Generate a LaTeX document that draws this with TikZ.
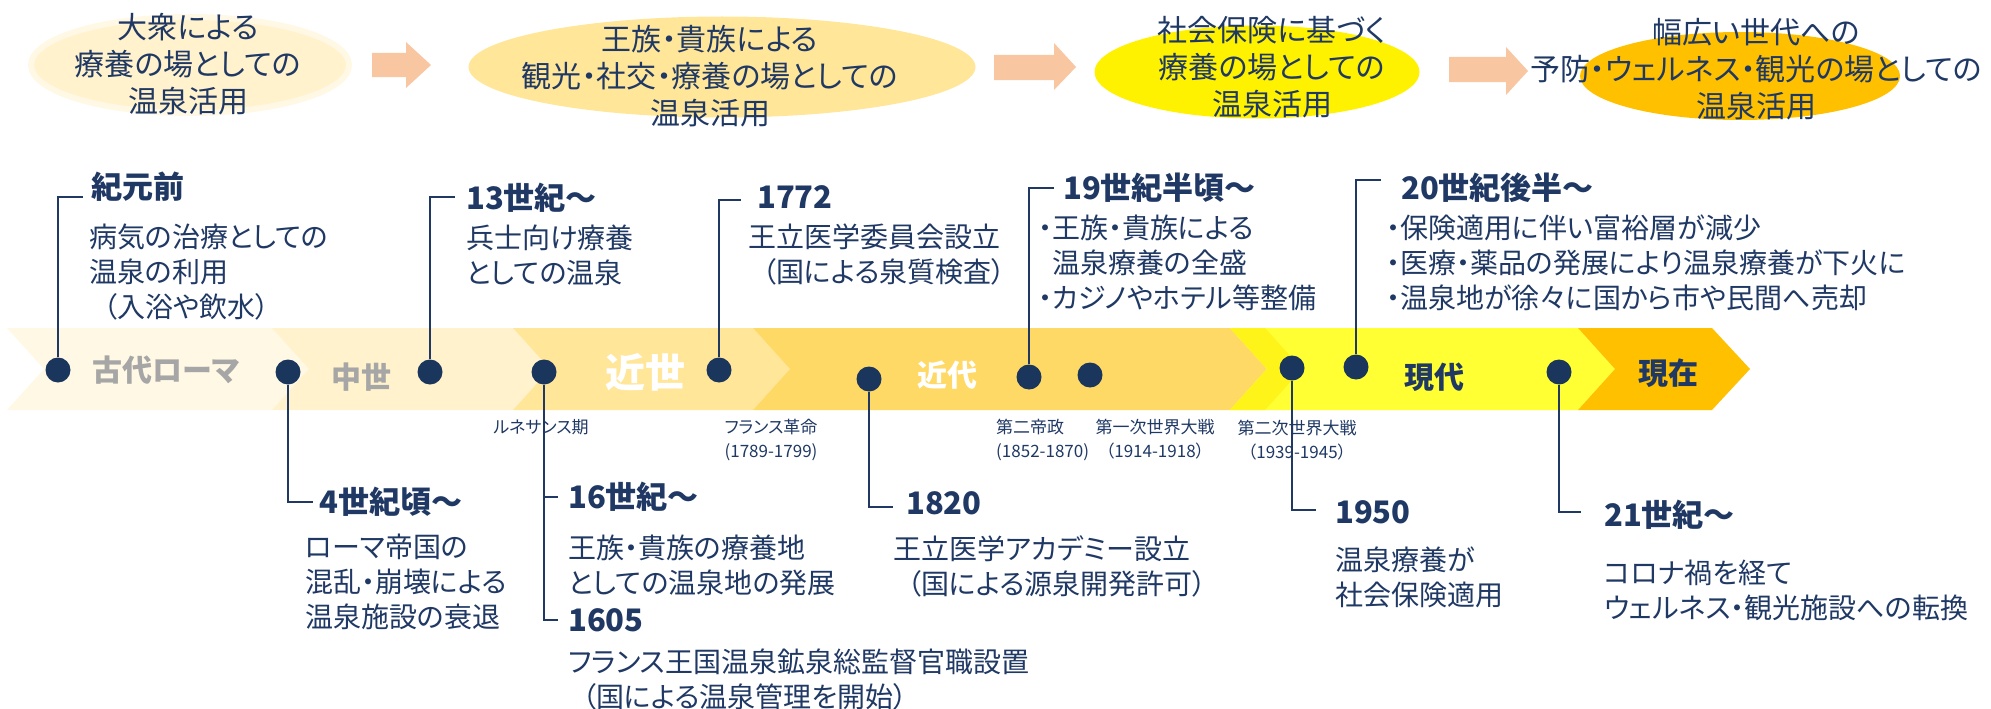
\documentclass[tikz,border=0pt]{standalone}
\usepackage{fontspec}
\setmainfont{Noto Sans CJK JP}[RawFeature={+palt}]
\usepackage{tikz}
\usetikzlibrary{shapes.geometric}
\definecolor{navy}{RGB}{31, 56, 100}
\definecolor{dotc}{RGB}{27, 54, 93}
\definecolor{ageA}{RGB}{255, 248, 229}
\definecolor{ageB}{RGB}{255, 242, 204}
\definecolor{ageC}{RGB}{255, 230, 153}
\definecolor{ageD}{RGB}{255, 217, 102}
\definecolor{ageE}{RGB}{255, 255, 51}
\definecolor{ageEd}{RGB}{255, 244, 25}
\definecolor{ageF}{RGB}{255, 192, 0}
\definecolor{peach}{RGB}{248, 198, 160}
\definecolor{gtxt}{RGB}{166, 166, 166}

\begin{document}
\begin{tikzpicture}[x=1pt, y=1pt,
every node/.style={inner sep=0pt},
dot/.style={circle, minimum size=25pt, fill=dotc},
leader/.style={draw=navy, line width=1.6pt},
title/.style={anchor=west, text=navy, font=\fontsize{31pt}{36pt}\selectfont\bfseries},
body/.style={anchor=north west, align=left, text=navy, font=\fontsize{28pt}{35pt}\selectfont},
small/.style={align=center, text=navy, font=\fontsize{17pt}{24pt}\selectfont},
era/.style={font=\fontsize{30pt}{36pt}\selectfont\bfseries},
goal/.style={ellipse, inner sep=0pt},
goaltext/.style={align=center, text=navy, font=\fontsize{30pt}{37pt}\selectfont}]
\useasboundingbox (0,0) rectangle (1991,-709);

% top row
\node (e1) [goal, minimum width=318pt, minimum height=96pt, fill=ageB, draw=ageA, line width=6pt] at (190,-65) {};
\node (e2) [goal, minimum width=507pt, minimum height=101pt, fill=ageC] at (722,-67) {};
\node (e3) [goal, minimum width=325pt, minimum height=93pt, fill=yellow] at (1257,-72) {};
\node (e4) [goal, minimum width=320pt, minimum height=88pt, fill=ageF] at (1740,-76) {};
\fill [peach] (372,-53) -- (406,-53) -- (406,-42) -- (431,-65) -- (406,-88) -- (406,-77) -- (372,-77) -- cycle;
\fill [peach] (994,-55) -- (1054,-55) -- (1054,-43) -- (1076,-67) -- (1054,-90) -- (1054,-80) -- (994,-80) -- cycle;
\fill [peach] (1449,-57) -- (1506,-57) -- (1506,-47) -- (1528,-71) -- (1506,-95) -- (1506,-82) -- (1449,-82) -- cycle;
\node (g1) [goaltext] at (188,-64) {大衆による\\療養の場としての\\温泉活用};
\node (g2) [goaltext] at (710,-76) {王族・貴族による\\観光・社交・療養の場としての\\温泉活用};
\node (g3) [goaltext] at (1272,-67) {社会保険に基づく\\療養の場としての\\温泉活用};
\node (g4) [goaltext] at (1756,-69) {幅広い世代への\\予防・ウェルネス・観光の場としての\\温泉活用};

% band
\fill [ageA] (7,-328) -- (272,-328) -- (309,-369) -- (272,-410) -- (7,-410) -- (44,-369) -- cycle;
\fill [ageB] (272,-328) -- (513,-328) -- (550,-369) -- (513,-410) -- (272,-410) -- (309,-369) -- cycle;
\fill [ageC] (513,-328) -- (753,-328) -- (790,-369) -- (753,-410) -- (513,-410) -- (550,-369) -- cycle;
\fill [ageD] (753,-328) -- (1230,-328) -- (1267,-369) -- (1230,-410) -- (753,-410) -- (790,-369) -- cycle;
\fill [ageE] (1230,-328) -- (1578,-328) -- (1615,-369) -- (1578,-410) -- (1230,-410) -- (1267,-369) -- cycle;
\fill [ageEd] (1230,-328) -- (1265,-328) -- (1302,-369) -- (1265,-410) -- (1230,-410) -- (1267,-369) -- cycle;
\fill [ageF] (1578,-328) -- (1712,-328) -- (1750,-369) -- (1712,-410) -- (1578,-410) -- (1615,-369) -- cycle;
\node (a1) [era, text=gtxt] at (166,-370) {古代ローマ};
\node (a2) [era, text=gtxt] at (361,-377) {中世};
\node (a3) [era, text=white, font=\fontsize{40pt}{44pt}\selectfont\bfseries] at (645,-372) {近世};
\node (a4) [era, text=white] at (947,-375) {近代};
\node (a5) [era, text=navy] at (1434,-377) {現代};
\node (a6) [era, text=navy] at (1668,-373) {現在};

% dots
\node (d1) [dot] at (58,-370) {};
\node (d2) [dot] at (288,-372) {};
\node (d3) [dot] at (430,-372) {};
\node (d4) [dot] at (544,-372) {};
\node (d5) [dot] at (719,-370) {};
\node (d6) [dot] at (869,-379) {};
\node (d7) [dot] at (1029,-377) {};
\node (d8) [dot] at (1090,-375) {};
\node (d9) [dot] at (1292,-368) {};
\node (d10) [dot] at (1356,-367) {};
\node (d11) [dot] at (1559,-372) {};

% leaders
\coordinate (s1) at (83,-197);
\coordinate (s3) at (455,-197);
\coordinate (s5) at (741,-200);
\coordinate (s7) at (1054,-188);
\coordinate (s10) at (1381,-180);
\coordinate (s2) at (313,-502);
\coordinate (j4) at (544,-497);
\coordinate (s4a) at (558,-497);
\coordinate (s4b) at (558,-620);
\coordinate (s6) at (893,-507);
\coordinate (s9) at (1316,-510);
\coordinate (s11) at (1581,-512);
\draw [leader] (d1) |- (s1);
\draw [leader] (d3) |- (s3);
\draw [leader] (d5) |- (s5);
\draw [leader] (d7) |- (s7);
\draw [leader] (d10) |- (s10);
\draw [leader] (d2) |- (s2);
\draw [leader] (d4) |- (s4b);
\draw [leader] (j4) -- (s4a);
\draw [leader] (d6) |- (s6);
\draw [leader] (d9) |- (s9);
\draw [leader] (d11) |- (s11);

% events above
\node (t1) [title] at (91,-187) {紀元前};
\node (b1) [body] at (89,-224) {病気の治療としての\\温泉の利用\\\hspace*{.5em}（入浴や飲水）};
\node (t3) [title] at (466,-198) {13世紀～};
\node (b3) [body] at (466,-225) {兵士向け療養\\としての温泉};
\node (t5) [title] at (757,-197) {1772};
\node (b5) [body] at (748,-224) {王立医学委員会設立\\\hspace*{.5em}（国による泉質検査）};
\node (t7) [title] at (1063,-188) {19世紀半頃～};
\node (b7) [body] at (1038,-215) {・王族・貴族による\\\hphantom{・}温泉療養の全盛\\・カジノやホテル等整備};
\node (t10) [title] at (1401,-188) {20世紀後半～};
\node (b10) [body] at (1386,-215) {・保険適用に伴い富裕層が減少\\・医療・薬品の発展により温泉療養が下火に\\・温泉地が徐々に国から市や民間へ売却};

% events below
\node (t2) [title] at (319,-502) {4世紀頃～};
\node (b2) [body] at (305,-534) {ローマ帝国の\\混乱・崩壊による\\温泉施設の衰退};
\node (t4a) [title] at (568,-497) {16世紀～};
\node (b4a) [body] at (568,-535) {王族・貴族の療養地\\としての温泉地の発展};
\node (t4b) [title] at (568,-620) {1605};
\node (b4b) [body] at (568,-649) {フランス王国温泉鉱泉総監督官職設置\\\hspace*{.5em}（国による温泉管理を開始）};
\node (t6) [title] at (906,-503) {1820};
\node (b6) [body] at (893,-535) {王立医学アカデミー設立\\\hspace*{.5em}（国による源泉開発許可）};
\node (t9) [title] at (1335,-512) {1950};
\node (b9) [body] at (1335,-547) {温泉療養が\\社会保険適用};
\node (t11) [title] at (1604,-515) {21世紀～};
\node (b11) [body] at (1604,-560) {コロナ禍を経て\\ウェルネス・観光施設への転換};

% small notes
\node (n1) [small] at (541,-427) {ルネサンス期};
\node (n2) [small] at (771,-440) {フランス革命\\(1789-1799)};
\node (n3) [small, align=left, anchor=west] at (996,-440) {第二帝政\\(1852-1870)};
\node (n4) [small] at (1155,-439) {第一次世界大戦\\（1914-1918）};
\node (n5) [small] at (1297,-440) {第二次世界大戦\\（1939-1945）};
\end{tikzpicture}
\end{document}
